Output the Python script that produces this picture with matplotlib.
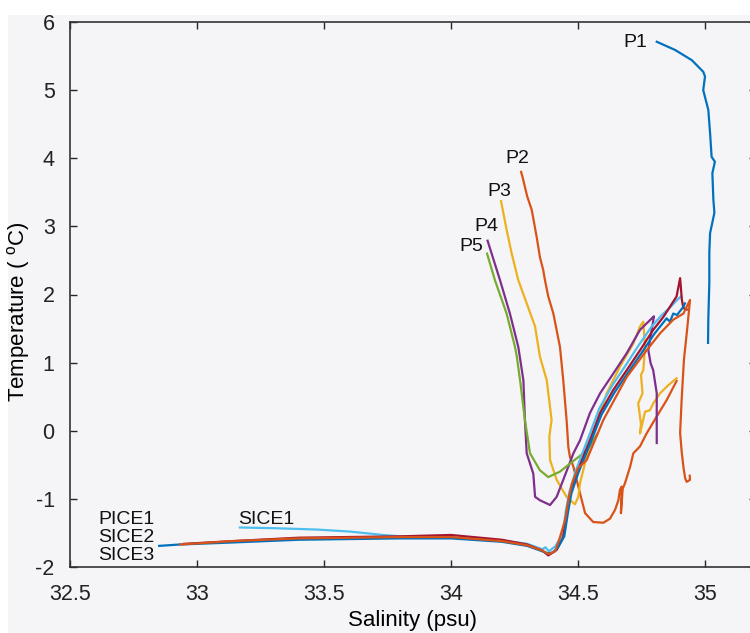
import matplotlib.pyplot as plt
from matplotlib.patches import Rectangle

plt.rcParams["axes.unicode_minus"] = False

# MATLAB default line colours
c_blue = "#0072BD"
c_orange = "#D95319"
c_yellow = "#EDB120"
c_purple = "#7E2F8E"
c_green = "#77AC30"
c_cyan = "#4DBEEE"
c_darkred = "#A2142F"

# profile stations (salinity psu, temperature degC)
p1_s = [34.810, 34.882, 34.948, 34.993, 35.000, 34.993, 35.013, 35.020, 35.026, 35.039,
        35.029, 35.033, 35.037, 35.020, 35.017, 35.017, 35.013, 35.012]
p1_t = [5.71, 5.59, 5.44, 5.27, 5.20, 5.00, 4.71, 4.37, 4.02, 3.95,
        3.78, 3.39, 3.20, 2.90, 2.61, 2.17, 1.63, 1.29]

p2_s = [34.276, 34.282, 34.300, 34.318, 34.337, 34.350, 34.363, 34.370, 34.383, 34.403,
        34.429, 34.442, 34.455, 34.462, 34.468, 34.482, 34.508, 34.528, 34.560, 34.600,
        34.626, 34.646, 34.659, 34.665, 34.672, 34.669, 34.676, 34.685, 34.705, 34.718,
        34.744, 34.770, 34.810, 34.849, 34.888]
p2_t = [3.80, 3.72, 3.44, 3.24, 2.85, 2.55, 2.36, 2.21, 1.97, 1.72,
        1.23, 0.74, 0.16, -0.24, -0.38, -0.53, -0.92, -1.21, -1.34, -1.35,
        -1.29, -1.16, -1.02, -0.87, -0.82, -1.21, -0.85, -0.77, -0.53, -0.33,
        -0.23, -0.04, 0.21, 0.45, 0.73]

p3_s = [34.197, 34.219, 34.239, 34.265, 34.298, 34.331, 34.350, 34.377, 34.396, 34.387,
        34.390, 34.416, 34.455, 34.488, 34.501, 34.508, 34.534, 34.560, 34.587, 34.613,
        34.665, 34.718, 34.744, 34.757, 34.764, 34.757, 34.748, 34.754, 34.737, 34.744,
        34.748, 34.744, 34.764, 34.783, 34.796, 34.823, 34.856, 34.888]
p3_t = [3.37, 2.95, 2.60, 2.21, 1.87, 1.53, 1.09, 0.74, 0.16, -0.09,
        -0.43, -0.72, -0.97, -1.08, -0.97, -0.77, -0.38, -0.04, 0.26, 0.55,
        0.94, 1.28, 1.53, 1.60, 1.23, 0.89, 0.82, 0.55, 0.40, 0.21,
        0.10, -0.04, 0.28, 0.30, 0.40, 0.55, 0.67, 0.77]

p4_s = [34.144, 34.193, 34.232, 34.265, 34.285, 34.291, 34.298, 34.324, 34.331, 34.350,
        34.390, 34.416, 34.442, 34.482, 34.508, 34.547, 34.587, 34.639, 34.692, 34.744,
        34.796, 34.799, 34.777, 34.786, 34.796, 34.810, 34.810]
p4_t = [2.79, 2.21, 1.72, 1.23, 0.74, 0.16, -0.33, -0.63, -0.97, -1.02,
        -1.09, -0.97, -0.72, -0.33, -0.14, 0.26, 0.55, 0.84, 1.14, 1.48,
        1.67, 1.68, 1.18, 0.99, 0.89, 0.55, -0.18]

p5_s = [34.142, 34.173, 34.219, 34.252, 34.259, 34.272, 34.291, 34.311, 34.350, 34.383,
        34.429, 34.469, 34.521, 34.547, 34.575]
p5_t = [2.60, 2.21, 1.72, 1.23, 1.09, 0.74, 0.16, -0.33, -0.58, -0.68,
        -0.60, -0.48, -0.33, -0.23, -0.05]

# ice stations
sice1_s = [33.169, 33.30, 33.471, 33.602, 33.733, 33.80, 34.00, 34.20, 34.30, 34.36,
           34.372, 34.385, 34.41, 34.44, 34.452, 34.466, 34.49, 34.517, 34.543, 34.583,
           34.634, 34.686, 34.738, 34.790, 34.830, 34.860, 34.885, 34.905]
sice1_t = [-1.42, -1.43, -1.45, -1.48, -1.53, -1.55, -1.57, -1.61, -1.66, -1.74,
           -1.71, -1.77, -1.70, -1.52, -1.18, -0.90, -0.60, -0.33, -0.08, 0.32,
           0.66, 0.95, 1.25, 1.53, 1.70, 1.80, 1.90, 1.97]

pice1_s = [32.95, 33.14, 33.40, 33.80, 34.00, 34.20, 34.30, 34.36, 34.383, 34.416,
           34.442, 34.455, 34.469, 34.495, 34.521, 34.547, 34.587, 34.639, 34.692, 34.744,
           34.796, 34.836, 34.862, 34.888, 34.902, 34.909, 34.915, 34.928]
pice1_t = [-1.66, -1.62, -1.57, -1.55, -1.53, -1.60, -1.67, -1.76, -1.83, -1.75,
           -1.56, -1.21, -0.92, -0.63, -0.38, -0.14, 0.26, 0.60, 0.89, 1.18,
           1.48, 1.67, 1.82, 1.97, 2.24, 1.92, 1.80, 1.78]

sice2_s = [32.851, 32.93, 33.14, 33.40, 33.80, 34.00, 34.20, 34.30, 34.36, 34.380,
           34.400, 34.420, 34.446, 34.460, 34.474, 34.500, 34.527, 34.553, 34.593, 34.645,
           34.698, 34.750, 34.800, 34.849, 34.862, 34.875, 34.890, 34.915, 34.921]
sice2_t = [-1.69, -1.67, -1.64, -1.60, -1.58, -1.58, -1.63, -1.69, -1.77, -1.80,
           -1.79, -1.72, -1.55, -1.21, -0.92, -0.63, -0.38, -0.14, 0.24, 0.57,
           0.86, 1.14, 1.42, 1.65, 1.60, 1.72, 1.70, 1.82, 1.87]

sice3_s = [32.933, 33.14, 33.40, 33.80, 34.00, 34.20, 34.30, 34.36, 34.384, 34.410,
           34.426, 34.450, 34.462, 34.476, 34.500, 34.534, 34.600, 34.692, 34.770, 34.823,
           34.875, 34.915, 34.941, 34.930, 34.917, 34.908, 34.902, 34.908, 34.915, 34.922,
           34.928, 34.941, 34.940]
sice3_t = [-1.67, -1.62, -1.58, -1.56, -1.56, -1.62, -1.68, -1.76, -1.81, -1.77,
           -1.60, -1.30, -1.02, -0.78, -0.55, -0.43, 0.16, 0.79, 1.18, 1.43,
           1.63, 1.72, 1.92, 1.50, 1.04, 0.45, -0.03, -0.30, -0.53, -0.70,
           -0.75, -0.72, -0.66]

bg = "#f5f4f6"
fig = plt.figure(figsize=(7.5, 6.33), dpi=100, facecolor="white")
fig.patches.append(Rectangle((8 / 750, 0), 1, 1 - 15 / 633, transform=fig.transFigure,
                             facecolor=bg, edgecolor="none", zorder=-10))
ax = fig.add_axes([70 / 750, 66 / 633, 2.7 * 254 / 750, 545 / 633])
ax.set_facecolor(bg)

lw = 1.6
for s, t, c in [(p1_s, p1_t, c_blue), (p2_s, p2_t, c_orange), (p3_s, p3_t, c_yellow),
                (p4_s, p4_t, c_purple), (p5_s, p5_t, c_green),
                (sice1_s, sice1_t, c_cyan), (pice1_s, pice1_t, c_darkred),
                (sice2_s, sice2_t, c_blue), (sice3_s, sice3_t, c_orange)]:
    ax.plot(s, t, color=c, lw=lw)

ax.set_xlim(32.5, 35.2)
ax.set_ylim(-2, 6)
ax.set_xticks([32.5, 33, 33.5, 34, 34.5, 35])
ax.set_xticklabels(["32.5", "33", "33.5", "34", "34.5", "35"])
ax.set_yticks(range(-2, 7))

font = "Liberation Sans"
ax.tick_params(direction="in", length=5, width=1, colors="#262626", labelsize=15.5,
               top=True, right=True)
ax.tick_params(axis="x", pad=12)
ax.tick_params(axis="y", pad=11)
for lab in ax.get_xticklabels() + ax.get_yticklabels():
    lab.set_fontfamily(font)
    lab.set_color("#222222")
for sp in ax.spines.values():
    sp.set_color("#333333")
    sp.set_linewidth(1.2)

ax.set_xlabel("Salinity (psu)", fontsize=16, family=font)
ax.set_ylabel("Temperature ( $\\mathregular{^{o}}$C)", fontsize=16, family=font)
ax.xaxis.set_label_coords(0.5, -0.078)
ax.yaxis.set_label_coords(-0.056, 0.468)

txt = dict(fontsize=14, family=font, color="#111111")
ax.text(34.772, 5.70, "P1", ha="right", va="center", **txt)
ax.text(34.307, 3.99, "P2", ha="right", va="center", **txt)
ax.text(34.236, 3.51, "P3", ha="right", va="center", **txt)
ax.text(34.185, 3.00, "P4", ha="right", va="center", **txt)
ax.text(34.126, 2.70, "P5", ha="right", va="center", **txt)
ax.text(33.161, -1.31, "SICE1", ha="left", va="center", **txt)
ax.text(32.61, -1.30, "PICE1", ha="left", va="center", **txt)
ax.text(32.61, -1.56, "SICE2", ha="left", va="center", **txt)
ax.text(32.61, -1.83, "SICE3", ha="left", va="center", **txt)

fig.savefig("out.png", dpi=100, facecolor=fig.get_facecolor())
